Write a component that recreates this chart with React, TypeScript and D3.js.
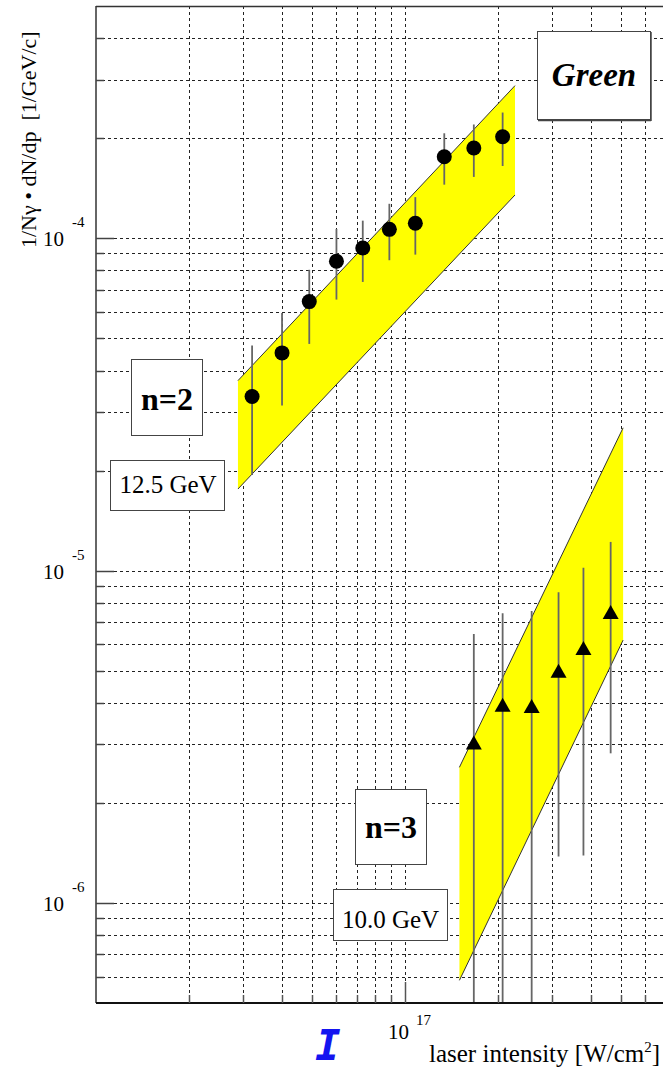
import React from "react";
import * as d3 from "d3";

// ---- data ----
const n2Intensity = [3.2e16, 4.0e16, 4.9e16, 6.0e16, 7.3e16, 8.9e16, 1.08e17, 1.34e17, 1.67e17, 2.07e17];
const n2Value = [3.34e-5, 4.52e-5, 6.45e-5, 8.53e-5, 9.35e-5, 1.064e-4, 1.11e-4, 1.76e-4, 1.87e-4, 2.02e-4];
const n2High = [4.76e-5, 5.96e-5, 8.04e-5, 1.067e-4, 1.13e-4, 1.27e-4, 1.33e-4, 2.07e-4, 2.2e-4, 2.39e-4];
const n2Low = [1.94e-5, 3.14e-5, 4.81e-5, 6.54e-5, 7.39e-5, 8.59e-5, 8.93e-5, 1.45e-4, 1.53e-4, 1.65e-4];

const n3Intensity = [1.67e17, 2.07e17, 2.57e17, 3.14e17, 3.78e17, 4.63e17];
const n3Value = [3.02e-6, 3.92e-6, 3.89e-6, 4.96e-6, 5.81e-6, 7.46e-6];
const n3High = [6.45e-6, 7.44e-6, 7.56e-6, 8.61e-6, 1.02e-5, 1.22e-5];
const n3Low = [1e-7, 1e-7, 1e-7, 1.38e-6, 1.39e-6, 2.82e-6];

// theory bands: [x, upper, lower] at left and right ends
const band2X = [2.88e16, 2.27e17];
const band2Upper = [3.73e-5, 2.88e-4];
const band2Lower = [1.76e-5, 1.35e-4];
const band3X = [1.5e17, 5.08e17];
const band3Upper = [2.56e-6, 2.69e-5];
const band3Lower = [5.85e-7, 6.18e-6];

const xDomain = [1e16, 1e18];
const yDomain = [5e-7, 5e-4];
const yDecades = [-6, -5, -4];
const xMajorExp = 17;

const yTitle = "1/N\u03b3 \u2022 dN/dp  [1/GeV/c]";
const xTitle = "laser intensity [W/cm";
const labelGreen = "Green";
const labelN2 = "n=2";
const labelN3 = "n=3";
const labelE2 = "12.5 GeV";
const labelE3 = "10.0 GeV";

// ---- layout ----
const W = 663;
const H = 1072;
const L = 96;
const R = 714;
const T = 6;
const B = 1003;
const serif = "'Liberation Serif', 'Times New Roman', serif";

export default function App() {
  const x = d3.scaleLog().domain(xDomain).range([L, R]);
  const y = d3.scaleLog().domain(yDomain).range([B, T]);

  const xGrid: number[] = [];
  for (let e = 16; e <= 17; e++) for (let m = 1; m <= 9; m++) {
    const v = m * Math.pow(10, e);
    if (v > xDomain[0] && v < xDomain[1]) xGrid.push(v);
  }
  const yGrid: number[] = [];
  for (let e = -7; e <= -4; e++) for (let m = 1; m <= 9; m++) {
    const v = m * Math.pow(10, e);
    if (v > yDomain[0] * 1.0001 && v < yDomain[1] * 0.9999) yGrid.push(v);
  }

  const bandPath = (bx: number[], up: number[], lo: number[]) =>
    `M${x(bx[0])},${y(up[0])}L${x(bx[1])},${y(up[1])}L${x(bx[1])},${y(lo[1])}L${x(bx[0])},${y(lo[0])}Z`;
  const edge = (bx: number[], v: number[]) => `M${x(bx[0])},${y(v[0])}L${x(bx[1])},${y(v[1])}`;

  const clampY = (v: number) => y(Math.max(yDomain[0], Math.min(yDomain[1], v)));

  const tri = (cx: number, cy: number) =>
    `M${cx},${cy - 8}L${cx + 8},${cy + 6}L${cx - 8},${cy + 6}Z`;

  return (
    <svg
      width={W}
      height={H}
      style={{ position: "absolute", left: 0, top: 0, display: "block", background: "#fff" }}
    >
      <defs>
        <clipPath id="plot">
          <rect x={L} y={T} width={R - L} height={B - T} />
        </clipPath>
      </defs>
      <rect x={0} y={0} width={W} height={H} fill="#fff" />
      <g clipPath="url(#plot)">
        {xGrid.map((v, i) => (
          <line key={"gx" + i} x1={Math.round(x(v)) + 0.5} x2={Math.round(x(v)) + 0.5} y1={T} y2={B}
            stroke="#222" strokeWidth={1} strokeDasharray="3,3" shapeRendering="crispEdges" />
        ))}
        {yGrid.map((v, i) => (
          <line key={"gy" + i} x1={L} x2={R} y1={Math.round(y(v)) + 0.5} y2={Math.round(y(v)) + 0.5}
            stroke="#222" strokeWidth={1} strokeDasharray="3,3" shapeRendering="crispEdges" />
        ))}

        <path d={bandPath(band2X, band2Upper, band2Lower)} fill="#ffff00" />
        <path d={edge(band2X, band2Upper)} stroke="#333" strokeWidth={1} fill="none" />
        <path d={edge(band2X, band2Lower)} stroke="#333" strokeWidth={1} fill="none" />
        <path d={bandPath(band3X, band3Upper, band3Lower)} fill="#ffff00" />
        <path d={edge(band3X, band3Upper)} stroke="#333" strokeWidth={1} fill="none" />
        <path d={edge(band3X, band3Lower)} stroke="#333" strokeWidth={1} fill="none" />

        {n2Intensity.map((v, i) => (
          <line key={"e2" + i} x1={x(v)} x2={x(v)} y1={clampY(n2High[i])} y2={clampY(n2Low[i])}
            stroke="#666" strokeWidth={1.8} />
        ))}
        {n3Intensity.map((v, i) => (
          <line key={"e3" + i} x1={x(v)} x2={x(v)} y1={clampY(n3High[i])} y2={clampY(n3Low[i])}
            stroke="#666" strokeWidth={1.8} />
        ))}
        {n2Intensity.map((v, i) => (
          <circle key={"m2" + i} cx={x(v)} cy={y(n2Value[i])} r={7.5} fill="#000" />
        ))}
        {n3Intensity.map((v, i) => (
          <path key={"m3" + i} d={tri(x(v), y(n3Value[i]))} fill="#000" />
        ))}
      </g>

      {/* boxes */}
      <g fontFamily={serif} textAnchor="middle">
        <rect x={537.5} y={31.5} width={113} height={88} fill="#fff" stroke="#444" strokeWidth={1} />
        <line x1={538} x2={651} y1={120.5} y2={120.5} stroke="#444" strokeWidth={1.5} />
        <line x1={651} x2={651} y1={32} y2={121} stroke="#444" strokeWidth={1.5} />
        <text x={594} y={86} fontSize={33} fontWeight="bold" fontStyle="italic">{labelGreen}</text>

        <rect x={131.5} y={359.5} width={71} height={76} fill="#fff" stroke="#444" strokeWidth={1} />
        <text x={167} y={410} fontSize={32} fontWeight="bold">{labelN2}</text>
        <rect x={110.5} y={460.5} width={114} height={50} fill="#fff" stroke="#444" strokeWidth={1} />
        <text x={168} y={493} fontSize={25}>{labelE2}</text>

        <rect x={355.5} y={789.5} width={71} height={75} fill="#fff" stroke="#444" strokeWidth={1} />
        <text x={391} y={838} fontSize={32} fontWeight="bold">{labelN3}</text>
        <rect x={333.5} y={889.5} width={114} height={51} fill="#fff" stroke="#444" strokeWidth={1} />
        <text x={390.5} y={928} fontSize={25}>{labelE3}</text>
      </g>

      {/* frame */}
      <line x1={L} x2={W} y1={T + 0.5} y2={T + 0.5} stroke="#333" strokeWidth={1.5} />
      <line x1={L} x2={L} y1={T} y2={B} stroke="#333" strokeWidth={1.5} />
      <line x1={L} x2={W} y1={B} y2={B} stroke="#111" strokeWidth={2} />

      {/* y ticks */}
      {yGrid.map((v, i) => {
        const major = yDecades.some((d) => Math.abs(Math.log10(v) - d) < 1e-6);
        return (
          <line key={"ty" + i} x1={L} x2={L + (major ? 18 : 8)} y1={Math.round(y(v)) + 0.5} y2={Math.round(y(v)) + 0.5}
            stroke="#444" strokeWidth={1.5} />
        );
      })}
      {/* x ticks */}
      {xGrid.filter((v) => x(v) < W).map((v, i) => {
        const major = Math.abs(Math.log10(v) - xMajorExp) < 1e-6;
        return (
          <line key={"tx" + i} x1={Math.round(x(v)) + 0.5} x2={Math.round(x(v)) + 0.5} y1={B} y2={B - (major ? 21 : 8)}
            stroke="#555" strokeWidth={1.5} />
        );
      })}

      {/* y tick labels */}
      <g fontFamily={serif} fill="#000">
        {yDecades.map((d) => (
          <g key={"ly" + d}>
            <text x={64} y={y(Math.pow(10, d)) + 8} fontSize={21} textAnchor="end">10</text>
            <text x={72} y={y(Math.pow(10, d)) - 11} fontSize={15} textAnchor="start">{String(d)}</text>
          </g>
        ))}
        <text x={409} y={1039} fontSize={21} textAnchor="end">10</text>
        <text x={416} y={1025} fontSize={15} textAnchor="start">{String(xMajorExp)}</text>
        <text x={429} y={1062} fontSize={25} textAnchor="start">
          {xTitle}
          <tspan fontSize={15} dy={-10}>2</tspan>
          <tspan dy={10}>]</tspan>
        </text>
        <text transform="translate(36,248) rotate(-90)" fontSize={22} textAnchor="start" style={{ whiteSpace: "pre" }}>
          {yTitle}
        </text>
      </g>

      <text x={328} y={1060} fontFamily="'DejaVu Sans Mono', monospace" fontWeight="bold" fontStyle="italic"
        fontSize={42} fill="#1414f0" textAnchor="middle">I</text>
    </svg>
  );
}
